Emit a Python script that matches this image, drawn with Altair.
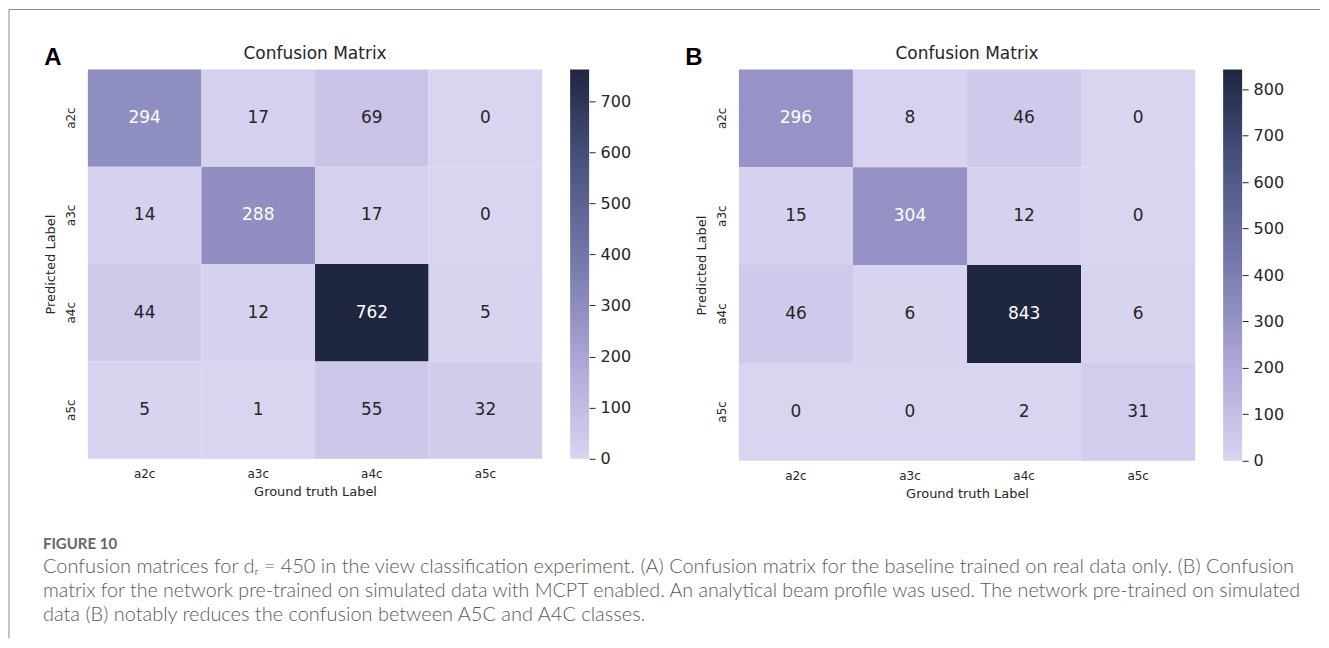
import altair as alt
import pandas as pd

labels = ["a2c", "a3c", "a4c", "a5c"]
matrix_a = [[294, 17, 69, 0],
            [14, 288, 17, 0],
            [44, 12, 762, 5],
            [5, 1, 55, 32]]
matrix_b = [[296, 8, 46, 0],
            [15, 304, 12, 0],
            [46, 6, 843, 6],
            [0, 0, 2, 31]]
palette = ["#d9d4f0", "#aca7d8", "#7779ac", "#4b5582", "#1f2641"]
panel_letters = ["A", "B"]
figure_label = "FIGURE 10"
caption_lines = [
    "Confusion matrices for dᵣ = 450 in the view classification experiment. (A) Confusion matrix for the baseline trained on real data only. (B) Confusion",
    "matrix for the network pre-trained on simulated data with MCPT enabled. An analytical beam profile was used. The network pre-trained on simulated",
    "data (B) notably reduces the confusion between A5C and A4C classes.",
]

FONT = "DejaVu Sans"
INK = "#262626"
CAP_FONT = "Lato"
CAP_INK = "#5a5a5a"
BORDER = "#8c8c8c"


def tidy(m):
    rows = []
    for i, p in enumerate(labels):
        for j, g in enumerate(labels):
            rows.append({"pred": p, "gt": g, "v": m[i][j]})
    return pd.DataFrame(rows)


def one_row():
    return pd.DataFrame({"a": [0]})


def heatmap(m, w, h):
    df = tidy(m)
    vmax = max(max(r) for r in m)
    cscale = alt.Scale(domain=[0, vmax], range=palette, nice=False, zero=True)
    band = alt.Scale(paddingInner=0, paddingOuter=0)
    base = alt.Chart(df).encode(
        x=alt.X("gt:N", sort=labels, scale=band,
                axis=alt.Axis(title="Ground truth Label", labelAngle=0, ticks=False,
                              domain=False, labelPadding=10, labelFontSize=12,
                              titleFontSize=13, titleFontWeight="normal", titlePadding=6,
                              labelFont=FONT, titleFont=FONT, labelColor=INK,
                              titleColor=INK)),
        y=alt.Y("pred:N", sort=labels, scale=band,
                axis=alt.Axis(title="Predicted Label", labelAngle=-90, ticks=False,
                              domain=False, labelPadding=10, labelAlign="center",
                              labelBaseline="bottom", labelFontSize=12,
                              titleFontSize=13, titleFontWeight="normal", titlePadding=7,
                              labelFont=FONT, titleFont=FONT, labelColor=INK,
                              titleColor=INK)),
    )
    rect = base.mark_rect().encode(color=alt.Color("v:Q", scale=cscale, legend=None))
    text = base.mark_text(font=FONT, fontSize=17).encode(
        text="v:Q",
        color=alt.condition(f"datum.v > {0.3 * vmax}", alt.value("white"), alt.value(INK)),
    )
    return alt.layer(rect, text).properties(
        width=w, height=h,
        title=alt.TitleParams("Confusion Matrix", fontSize=17, font=FONT,
                              fontWeight="normal", color=INK, offset=6, anchor="middle"),
    )


def colorbar(m, h):
    vmax = max(max(r) for r in m)
    n = len(palette) - 1
    grad = alt.LinearGradient(
        gradient="linear", x1=0, x2=0, y1=1, y2=0,
        stops=[alt.GradientStop(color=c, offset=k / n) for k, c in enumerate(palette)],
    )
    return alt.Chart(pd.DataFrame({"lo": [0], "hi": [vmax]})).mark_rect(
        fill=grad, strokeWidth=0
    ).encode(
        x=alt.value(0), x2=alt.value(19),
        y=alt.Y("lo:Q", scale=alt.Scale(domain=[0, vmax], nice=False, zero=True),
                axis=alt.Axis(orient="right", title=None, grid=False, domain=False,
                              ticks=True, tickSize=6, tickColor=INK, labelFontSize=16,
                              labelFont=FONT, labelColor=INK, labelPadding=5,
                              values=list(range(0, vmax + 1, 100)))),
        y2="hi:Q",
    ).properties(width=19, height=h)


# decorations (border, panel letters, caption) anchored to the spacer view
deco = [
    alt.Chart(one_row()).mark_point(opacity=0).encode(x=alt.value(0), y=alt.value(0)),
    alt.Chart(one_row()).mark_rule(color=BORDER, strokeWidth=1).encode(
        x=alt.value(-609), x2=alt.value(704), y=alt.value(-60)),
    alt.Chart(one_row()).mark_rule(color=BORDER, strokeWidth=1).encode(
        x=alt.value(-609), y=alt.value(-60), y2=alt.value(570)),
    alt.Chart(pd.DataFrame({"t": [figure_label]})).mark_text(
        font=CAP_FONT, fontSize=15, fontWeight="bold", color="#666666",
        align="left", baseline="middle").encode(
        text="t:N", x=alt.value(-575), y=alt.value(475)),
]
for letter, lx in zip(panel_letters, [-565, 77]):
    deco.append(
        alt.Chart(pd.DataFrame({"t": [letter]})).mark_text(
            font="Liberation Sans", fontSize=24, fontWeight="bold", align="center",
            baseline="middle", color="black").encode(
            text="t:N", x=alt.value(lx), y=alt.value(-11))
    )
for k, line in enumerate(caption_lines):
    # the second caption line is slightly tighter so it ends at the justified margin
    size = 19.7 if k == 1 else 20
    deco.append(
        alt.Chart(pd.DataFrame({"t": [line]})).mark_text(
            font=CAP_FONT, fontSize=size, fontWeight=300, color=CAP_INK,
            align="left", baseline="middle").encode(
            text="t:N", x=alt.value(-575), y=alt.value(498 + 24 * k))
    )

spacer = alt.layer(*deco).properties(width=94, height=390)
panel_a = heatmap(matrix_a, 455, 390)
panel_b = heatmap(matrix_b, 457, 392)

chart = alt.hconcat(
    panel_a, colorbar(matrix_a, 390), spacer, panel_b, colorbar(matrix_b, 392),
    spacing=28, bounds="flush",
).resolve_scale(
    color="independent", x="independent", y="independent"
).configure_view(stroke=None).properties(
    padding={"left": 0, "top": 0, "right": 0, "bottom": 0}, background="white"
)

chart.save("out.html", embed_options={"renderer": "svg", "actions": False})
